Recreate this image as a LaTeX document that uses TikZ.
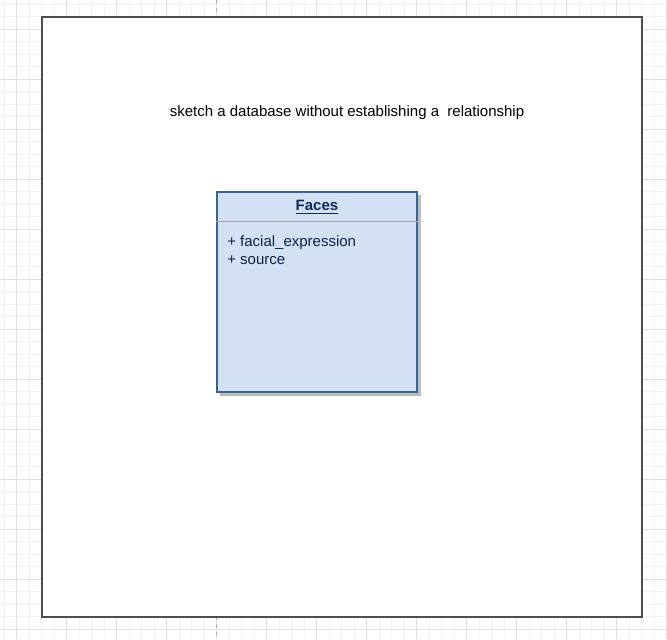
\documentclass[tikz,border=0pt]{standalone}
\usepackage{fontspec}
\setmainfont{Liberation Sans}
\usetikzlibrary{positioning}
\definecolor{gridminor}{HTML}{F3F3F3}
\definecolor{gridmajor}{HTML}{E0E0E0}
\definecolor{frameline}{HTML}{4D4D4D}
\definecolor{classfill}{HTML}{D4E1F5}
\definecolor{classline}{HTML}{3A6496}
\definecolor{classtext}{HTML}{0D2B52}
\definecolor{shadowgray}{HTML}{BDBDBD}
\begin{document}
\begin{tikzpicture}[x=0.75pt,y=-0.75pt,
	minorline/.style={gridminor,line width=0.75pt},
	majorline/.style={gridmajor,line width=0.75pt},
	classbox/.style={draw=classline,fill=classfill,line width=1.5pt,inner sep=0pt,minimum width=150pt,minimum height=150pt},
	labeltext/.style={font=\fontsize{11.25}{13.5}\selectfont}]
	\useasboundingbox (0,0) rectangle (667,639);
	%GRID
	\foreach \gx in {4.1,16.6,...,667} \draw[minorline] (\gx,0) -- (\gx,639);
	\foreach \gy in {4.3,16.8,...,639} \draw[minorline] (0,\gy) -- (667,\gy);
	\foreach \gx in {16.6,66.6,...,667} \draw[majorline] (\gx,0) -- (\gx,639);
	\foreach \gy in {29.3,79.3,...,639} \draw[majorline] (0,\gy) -- (667,\gy);
	\draw[gray!60,dashed,line width=0.75pt] (216.6,0) -- (216.6,639);
	%FRAME
	\draw[frameline,line width=1.5pt,fill=white] (42,17) rectangle (642,617);
	\node[labeltext] (title) at (347,113) {sketch a database without establishing a\ \ relationship};
	%CLASS
	\fill[shadowgray] (220,195) rectangle (421,396);
	\node[classbox] (faces) at (317,292) {};
	\node[labeltext,font=\fontsize{11.25}{13.5}\selectfont\bfseries,text=classtext] (facesname) at (317,207) {\underline{Faces}};
	\draw[gray!70,line width=0.9pt] ([yshift=-22.8pt]faces.north west) -- ([yshift=-22.8pt]faces.north east);
	\node[labeltext,text=classtext!85!black,anchor=north west,align=left,inner sep=0pt] (facesattr) at (227,235) {+ facial\_expression\\+ source};
\end{tikzpicture}
\end{document}
